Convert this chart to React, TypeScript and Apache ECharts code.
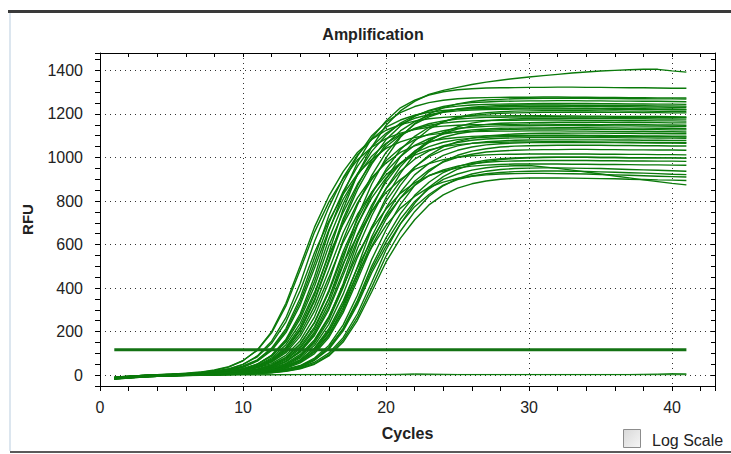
import React, { useEffect, useRef } from "react";
import * as echarts from "echarts";

const cycles = [1,2,3,4,5,6,7,8,9,10,11,12,13,14,15,16,17,18,19,20,21,22,23,24,25,26,27,28,29,30,31,32,33,34,35,36,37,38,39,40,41];
const threshold = 117;
const xTickStep = 2;
const xLabelStep = 10;
const yTickStep = 50;
const yLabelStep = 200;

const wellA1 = [-14,-9,-5,-1,1,4,6,9,15,24,41,73,128,222,368,561,762,922,1048,1148,1214,1258,1290,1308,1322,1335,1346,1355,1363,1370,1376,1382,1388,1393,1397,1400,1403,1405,1405,1398,1392];
const wellA2 = [-17,-12,-8,-5,-3,0,4,8,16,28,49,91,164,282,453,660,832,977,1089,1168,1228,1263,1287,1302,1311,1316,1319,1320,1321,1322,1322,1323,1323,1322,1322,1321,1320,1320,1319,1318,1318];
const wellA3 = [-12,-7,-3,0,2,5,10,16,25,42,70,124,214,354,539,732,885,1006,1100,1162,1206,1234,1252,1263,1270,1273,1275,1276,1277,1277,1278,1278,1277,1277,1276,1276,1275,1275,1274,1274,1273];
const wellA4 = [-14,-9,-5,-2,0,2,4,9,14,23,39,69,122,210,348,529,718,869,989,1082,1145,1189,1216,1234,1245,1252,1255,1258,1259,1260,1260,1261,1261,1260,1260,1259,1259,1258,1258,1257,1256];
const wellA5 = [-10,-5,-1,2,4,6,7,12,16,22,34,53,91,158,268,428,622,782,918,1023,1097,1153,1187,1209,1223,1231,1236,1239,1240,1241,1241,1241,1240,1240,1239,1239,1238,1238,1237,1237,1236];
const wellA6 = [-16,-11,-7,-4,-2,4,8,15,27,49,88,156,264,422,614,772,907,1011,1084,1139,1172,1194,1208,1216,1221,1224,1225,1226,1226,1227,1227,1227,1226,1226,1225,1225,1224,1224,1223,1223,1222];
const wellA7 = [-14,-9,-4,-1,2,7,12,21,37,66,116,200,330,502,680,822,935,1023,1083,1125,1151,1167,1178,1184,1188,1190,1191,1191,1192,1192,1192,1191,1191,1190,1190,1189,1189,1188,1188,1187,1186];
const wellA8 = [-11,-6,-2,1,4,9,14,24,39,67,114,194,318,484,657,795,903,989,1047,1087,1112,1128,1139,1144,1148,1150,1151,1152,1152,1153,1153,1152,1152,1152,1151,1151,1150,1150,1149,1149,1148];
const wellA9 = [-18,-13,-9,-6,-4,-2,0,2,6,10,18,34,62,113,199,331,506,688,831,946,1036,1097,1139,1165,1182,1193,1199,1203,1205,1206,1207,1207,1208,1208,1208,1207,1207,1206,1206,1205,1205];
const wellA10 = [-13,-8,-4,-1,1,3,7,11,18,30,50,87,152,258,408,594,748,877,978,1049,1102,1134,1155,1168,1177,1181,1184,1185,1186,1186,1187,1187,1186,1186,1186,1185,1185,1184,1184,1183,1183];
const wellA11 = [-15,-10,-6,-3,0,3,7,12,21,36,64,113,195,323,492,668,808,918,1006,1065,1106,1131,1148,1158,1164,1168,1170,1171,1171,1172,1172,1172,1171,1171,1170,1170,1169,1169,1168,1168,1167];
const wellA12 = [-12,-7,-3,0,2,4,5,6,10,13,19,29,48,85,148,252,401,582,732,858,957,1027,1079,1110,1131,1144,1152,1157,1159,1160,1161,1162,1162,1162,1162,1161,1161,1160,1160,1159,1159];
const wellB1 = [-14,-9,-5,-2,0,2,5,9,14,22,36,63,110,191,317,482,654,790,899,985,1042,1082,1107,1123,1134,1139,1143,1145,1146,1146,1147,1147,1147,1146,1146,1145,1145,1144,1144,1143,1143];
const wellB2 = [-17,-12,-8,-5,-3,-1,1,4,8,14,25,44,80,143,244,390,568,715,840,936,1004,1056,1086,1107,1119,1127,1131,1134,1135,1136,1136,1137,1137,1137,1136,1136,1135,1135,1134,1134,1133];
const wellB3 = [-12,-7,-3,0,2,7,11,18,29,49,84,146,245,389,563,708,830,925,991,1042,1072,1092,1104,1112,1117,1119,1120,1121,1121,1122,1122,1122,1121,1121,1120,1120,1119,1119,1118,1118,1117];
const wellB4 = [-14,-9,-5,-2,0,2,3,4,6,9,13,21,35,62,108,187,309,470,636,768,872,955,1010,1049,1073,1089,1099,1104,1108,1110,1111,1111,1112,1112,1112,1111,1111,1110,1110,1109,1109];
const wellB5 = [-16,-11,-7,-4,-2,0,4,8,15,25,44,79,140,238,380,552,694,814,908,974,1023,1053,1073,1085,1092,1097,1099,1100,1101,1101,1102,1102,1102,1101,1101,1100,1100,1099,1099,1098,1098];
const wellB6 = [-11,-6,-2,1,3,5,6,8,12,16,24,38,63,106,182,301,459,622,752,856,937,992,1030,1054,1069,1079,1085,1088,1090,1091,1091,1092,1092,1092,1091,1091,1090,1090,1089,1089,1088];
const wellB7 = [-15,-10,-6,-3,-1,1,2,3,7,10,15,25,44,79,137,233,372,541,681,799,891,956,1004,1034,1053,1065,1072,1076,1079,1080,1081,1081,1081,1081,1081,1080,1080,1079,1079,1078,1078];
const wellB8 = [-13,-8,-4,-1,1,3,6,9,14,21,35,60,103,178,295,449,610,738,840,920,974,1011,1035,1050,1059,1065,1068,1070,1071,1071,1072,1072,1072,1071,1071,1070,1070,1069,1069,1068,1068];
const wellB9 = [-12,-7,-3,0,2,4,5,6,7,10,13,18,27,44,78,136,231,367,532,668,783,872,935,982,1010,1029,1040,1048,1052,1054,1055,1056,1056,1056,1056,1055,1055,1054,1054,1053,1053];
const wellB10 = [-16,-11,-7,-4,-2,0,1,2,3,7,11,18,31,56,99,173,287,437,593,716,814,891,943,979,1001,1015,1025,1030,1033,1035,1036,1036,1037,1037,1036,1036,1035,1035,1034,1034,1033];
const wellB11 = [-14,-9,-5,-2,0,2,4,7,10,16,25,43,75,131,222,353,512,642,753,839,899,945,972,990,1001,1008,1012,1014,1015,1016,1016,1016,1016,1016,1015,1015,1014,1014,1013,1013,1012];
const wellB12 = [-10,-5,-1,2,4,6,7,8,9,10,13,16,22,35,59,101,172,282,427,576,695,789,863,912,946,968,981,990,995,998,1000,1001,1001,1001,1000,1000,999,999,998,998,997];
const wellC1 = [-17,-12,-8,-5,-3,-1,0,1,5,7,12,22,39,70,125,213,340,494,622,729,813,872,916,943,960,971,978,982,984,985,986,986,986,986,985,985,984,984,983,983,982];
const wellC2 = [-13,-8,-4,-1,1,3,4,6,10,13,20,32,54,95,163,269,409,555,671,763,835,883,917,938,952,960,965,968,970,970,970,970,969,969,968,968,967,966,966,965,964];
const wellC3 = [-14,-9,-5,-2,0,2,3,4,5,7,9,12,19,31,53,93,161,265,403,547,661,751,822,870,903,924,937,945,949,951,952,952,951,950,949,947,945,943,941,939,937];
const wellC4 = [-16,-11,-7,-4,-2,0,1,2,3,5,8,13,22,38,68,119,203,324,471,592,695,774,830,873,898,915,925,931,935,937,938,938,937,936,934,932,930,928,926,923,921];
const wellC5 = [-12,-7,-3,0,2,4,5,6,10,12,17,25,41,70,122,204,323,467,587,688,766,821,863,887,904,914,920,924,926,927,927,926,925,924,922,920,918,916,914,912,910];
const wellC6 = [-15,-10,-6,-3,-1,1,2,3,4,5,8,11,17,29,50,88,152,252,383,520,628,714,782,828,859,879,892,900,904,906,906,906,905,904,903,902,900,899,897,896,894];
const wellC7 = [-13,-8,-4,-1,1,3,4,5,6,9,11,16,25,42,72,126,211,335,486,611,716,798,856,899,924,942,953,959,962,963,957,950,942,933,924,915,906,897,889,881,874];
const wellC8 = [-14,-9,-5,-2,0,5,8,13,23,38,67,118,204,338,514,698,843,959,1050,1111,1153,1180,1197,1208,1214,1218,1220,1221,1222,1222,1223,1223,1223,1222,1222,1221,1221,1220,1220,1219,1219];
const wellC9 = [-16,-11,-7,-4,-2,0,1,3,7,12,20,35,62,110,190,313,476,646,781,888,973,1029,1068,1093,1109,1119,1125,1128,1130,1131,1131,1131,1131,1130,1130,1129,1129,1128,1128,1127,1127];
const wellC10 = [-11,-6,-2,1,3,5,6,7,8,12,16,23,37,62,107,182,298,452,612,739,840,920,973,1010,1033,1048,1058,1063,1066,1068,1069,1069,1069,1069,1068,1068,1067,1067,1066,1066,1065];
const wellC11 = [-15,-10,-6,-3,-1,1,6,10,17,29,51,91,159,270,430,625,786,923,1028,1102,1158,1192,1214,1228,1236,1241,1244,1245,1246,1247,1248,1248,1248,1248,1247,1247,1246,1246,1245,1245,1244];
const wellC12 = [-12,-7,-3,0,2,4,6,9,13,18,28,48,82,143,240,381,552,694,814,906,971,1021,1050,1070,1082,1089,1093,1096,1097,1098,1098,1098,1098,1098,1097,1097,1096,1096,1095,1095,1094];
const wellD1 = [-18,-13,-9,-6,-4,-2,-1,0,1,4,7,12,21,38,70,126,215,344,501,631,741,826,886,931,958,976,987,994,998,1000,1001,1001,1001,1001,1000,1000,999,999,998,998,997];
const wellD2 = [-14,-9,-5,-2,0,2,3,4,9,14,23,40,70,123,212,352,535,726,878,998,1093,1156,1200,1228,1246,1257,1264,1267,1270,1271,1272,1272,1272,1272,1271,1271,1270,1270,1269,1269,1268];
const wellD3 = [-13,-8,-4,-1,1,3,4,5,9,12,18,29,50,88,156,264,420,610,767,900,1003,1076,1130,1163,1185,1198,1206,1210,1213,1214,1215,1215,1215,1215,1214,1214,1213,1213,1212,1212,1211];
const wellD4 = [-16,-11,-7,-4,-2,0,2,6,13,22,37,66,117,205,340,518,704,852,969,1061,1122,1165,1192,1210,1221,1227,1231,1233,1234,1234,1235,1235,1235,1234,1234,1233,1233,1232,1232,1231,1231];
const wellD5 = [-14,-9,-5,-2,0,2,3,4,5,10,14,22,37,65,114,198,327,497,675,816,927,1016,1074,1115,1141,1158,1168,1174,1177,1179,1180,1180,1180,1180,1179,1179,1178,1178,1177,1177,1176];
const ntc1 = [-14,-9,-6,-3,-1,0,1,1,2,2,2,2,3,3,3,3,3,3,3,3,4,6,5,4,3,3,3,3,3,3,3,3,3,3,3,3,3,4,5,7,6];
const ntc2 = [-16,-11,-7,-4,-2,-1,0,0,1,1,1,1,1,2,2,2,2,2,2,2,2,2,2,2,2,2,2,2,2,2,2,2,2,2,2,2,2,2,2,2,2];

const wells = [
  wellA1, wellA2, wellA3, wellA4, wellA5, wellA6, wellA7, wellA8, wellA9, wellA10, wellA11, wellA12,
  wellB1, wellB2, wellB3, wellB4, wellB5, wellB6, wellB7, wellB8, wellB9, wellB10, wellB11, wellB12,
  wellC1, wellC2, wellC3, wellC4, wellC5, wellC6, wellC7, wellC8, wellC9, wellC10, wellC11, wellC12,
  wellD1, wellD2, wellD3, wellD4, wellD5,
];
const wellNames = [
  "A1","A2","A3","A4","A5","A6","A7","A8","A9","A10","A11","A12",
  "B1","B2","B3","B4","B5","B6","B7","B8","B9","B10","B11","B12",
  "C1","C2","C3","C4","C5","C6","C7","C8","C9","C10","C11","C12",
  "D1","D2","D3","D4","D5",
];

export default function App() {
  const ref = useRef<HTMLDivElement>(null);

  useEffect(() => {
    if (!ref.current) return;
    const chart = echarts.init(ref.current, null, { renderer: "svg" });
    const font = "'Liberation Sans', Arial, Helvetica, sans-serif";
    const green = "#0b7a0b";

    const curveSeries: any[] = wells.map((w, i) => ({
      type: "line",
      name: wellNames[i],
      xAxisIndex: 0,
      yAxisIndex: 0,
      data: cycles.map((c, j) => [c, w[j]]),
      symbol: "none",
      silent: true,
      z: 3,
      lineStyle: { color: green, width: 1.4 },
      itemStyle: { color: green },
    }));
    const ntcSeries: any[] = [ntc1, ntc2].map((w, i) => ({
      type: "line",
      name: "NTC" + (i + 1),
      xAxisIndex: 0,
      yAxisIndex: 0,
      data: cycles.map((c, j) => [c, w[j]]),
      symbol: "none",
      silent: true,
      z: 3,
      lineStyle: { color: green, width: 1 },
    }));
    const thresholdSeries = {
      type: "line",
      name: "Threshold",
      xAxisIndex: 0,
      yAxisIndex: 0,
      data: [[cycles[0], threshold], [cycles[cycles.length - 1], threshold]],
      symbol: "none",
      silent: true,
      z: 4,
      lineStyle: { color: "#137213", width: 3 },
    };

    const dotted = { color: "#333", width: 1, type: [1, 4] as any };
    const tickLine = { color: "#000", width: 1 };

    chart.setOption({
      animation: false,
      backgroundColor: "#ffffff",
      textStyle: { fontFamily: font },
      grid: { left: 100, top: 53, right: 16, bottom: 68, show: false },
      xAxis: [
        {
          type: "value", position: "bottom", min: 0, max: 43, interval: xTickStep,
          axisLine: { show: true, onZero: false, lineStyle: tickLine },
          axisTick: { show: true, inside: false, length: 5, lineStyle: tickLine },
          axisLabel: {
            margin: 13, color: "#222", fontSize: 16, fontFamily: font,
            formatter: (v: number) => (v % xLabelStep === 0 ? String(v) : ""),
          },
          splitLine: { show: false },
          name: "Cycles", nameLocation: "middle", nameGap: 39,
          nameTextStyle: { fontWeight: "bold", fontSize: 16, color: "#222", fontFamily: font },
        },
        {
          type: "value", position: "bottom", min: 0, max: 43, interval: xLabelStep,
          axisLine: { show: false }, axisTick: { show: false }, axisLabel: { show: false },
          splitLine: { show: true, lineStyle: dotted },
        },
        {
          type: "value", position: "top", min: 0, max: 43, interval: xTickStep,
          axisLine: { show: true, onZero: false, lineStyle: tickLine },
          axisTick: { show: true, inside: true, length: 4, lineStyle: tickLine },
          axisLabel: { show: false }, splitLine: { show: false },
        },
      ],
      yAxis: [
        {
          type: "value", position: "left", min: -50, max: 1480, interval: yTickStep,
          axisLine: { show: true, onZero: false, lineStyle: tickLine },
          axisTick: { show: true, inside: false, length: 5, lineStyle: tickLine },
          axisLabel: {
            margin: 17, color: "#222", fontSize: 16, fontFamily: font,
            formatter: (v: number) => (v % yLabelStep === 0 ? String(v) : ""),
          },
          splitLine: { show: false },
          name: "RFU", nameLocation: "middle", nameGap: 65, nameRotate: 90,
          nameTextStyle: { fontWeight: "bold", fontSize: 15, color: "#222", fontFamily: font },
        },
        {
          type: "value", position: "left", min: -50, max: 1480, splitNumber: 8,
          axisLine: { show: false }, axisTick: { show: false }, axisLabel: { show: false },
          splitLine: { show: true, lineStyle: dotted },
        },
        {
          type: "value", position: "right", min: -50, max: 1480, interval: yTickStep,
          axisLine: { show: true, onZero: false, lineStyle: tickLine },
          axisTick: { show: true, inside: true, length: 4, lineStyle: tickLine },
          axisLabel: { show: false }, splitLine: { show: false },
        },
      ],
      graphic: [
        { type: "rect", shape: { x: 8, y: 10, width: 723, height: 3 }, style: { fill: "#3a3a3a" }, silent: true },
        { type: "rect", shape: { x: 9, y: 13, width: 2, height: 438 }, style: { fill: "#dce6ef" }, silent: true },
        { type: "rect", shape: { x: 10, y: 451, width: 721, height: 2 }, style: { fill: "#5a5a5a" }, silent: true },
        {
          type: "text", x: 373, y: 34,
          style: { text: "Amplification", fill: "#222", font: `bold 16px ${font}`, textAlign: "center", textVerticalAlign: "middle" },
          silent: true,
        },
        {
          type: "rect", shape: { x: 623.5, y: 429.5, width: 17, height: 18 },
          style: {
            stroke: "#8c8c8c", lineWidth: 1,
            fill: new echarts.graphic.LinearGradient(0, 0, 1, 1, [
              { offset: 0, color: "#d8d8d8" },
              { offset: 1, color: "#f6f6f6" },
            ]),
          },
          silent: true,
        },
        {
          type: "text", x: 652, y: 440,
          style: { text: "Log Scale", fill: "#222", font: `16px ${font}`, textAlign: "left", textVerticalAlign: "middle" },
          silent: true,
        },
      ],
      series: [...curveSeries, ...ntcSeries, thresholdSeries],
    });

    return () => chart.dispose();
  }, []);

  return (
    <div style={{ position: "absolute", left: 0, top: 0, width: 731, height: 454, background: "#fff" }}>
      <div ref={ref} style={{ width: 731, height: 454 }} />
    </div>
  );
}
